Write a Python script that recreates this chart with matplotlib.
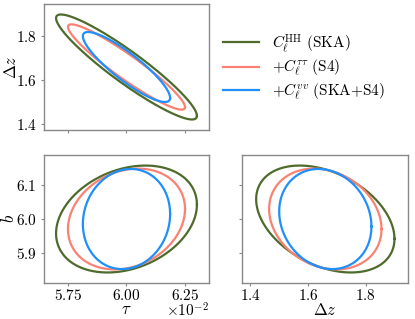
import numpy as np
import matplotlib
matplotlib.use("Agg")
import matplotlib.pyplot as plt

plt.rcParams['font.family'] = 'serif'
plt.rcParams['font.serif'] = ['cmr10']
plt.rcParams['mathtext.fontset'] = 'cm'
plt.rcParams['axes.formatter.use_mathtext'] = True

# fiducial values
tau0 = 6.0e-2
dz0 = 1.66
b0 = 6.0

labels = [r'$C_\ell^{\rm HH}\ \mathrm{(SKA)}$',
          r'$+C_\ell^{\tau\tau}\ \mathrm{(S4)}$',
          r'$+C_\ell^{vv}\ \mathrm{(SKA{+}S4)}$']
colors = ['#4e6b2b', '#f98273', '#1f8ffb']

# contour half-widths along each parameter
half_tau = [0.302e-2, 0.251e-2, 0.187e-2]
half_dz = [0.240, 0.195, 0.160]
half_b = [0.157, 0.148, 0.147]
# correlation coefficients
rho_tau_dz = [-0.93, -0.94, -0.88]
rho_tau_b = [0.27, 0.20, 0.10]
rho_dz_b = [-0.37, -0.20, -0.15]

tau_ticks = [5.75e-2, 6.00e-2, 6.25e-2]
dz_ticks = [1.4, 1.6, 1.8]
b_ticks = [5.9, 6.0, 6.1]
tau_lim = (5.645e-2, 6.355e-2)
dz_lim = (1.372, 1.948)
b_lim = (5.813, 6.188)

fs = 11


def ellipse(ax, cx, cy, sx, sy, rho, color):
    t = np.linspace(0, 2 * np.pi, 300)
    cov = np.array([[sx * sx, rho * sx * sy], [rho * sx * sy, sy * sy]])
    L = np.linalg.cholesky(cov)
    xy = L @ np.vstack([np.cos(t), np.sin(t)])
    return ax.plot(cx + xy[0], cy + xy[1], color=color, lw=1.6)[0]


def style(ax):
    for s in ax.spines.values():
        s.set_color('#888888')
        s.set_linewidth(1.0)
    ax.tick_params(colors='#888888', labelcolor='black', labelsize=fs,
                   length=2.5, width=0.8, pad=2.5)
    ax.tick_params(axis='x', pad=1.5)


fig = plt.figure(figsize=(4.15, 3.19), dpi=100)
ax1 = fig.add_axes([0.1053, 0.5925, 0.399, 0.395])
ax2 = fig.add_axes([0.1053, 0.1138, 0.399, 0.4003])
ax3 = fig.add_axes([0.5839, 0.1138, 0.400, 0.4003])

handles = []
for i in range(3):
    h = ellipse(ax1, tau0, dz0, half_tau[i], half_dz[i], rho_tau_dz[i], colors[i])
    handles.append(h)
    ellipse(ax2, tau0, b0, half_tau[i], half_b[i], rho_tau_b[i], colors[i])
    ellipse(ax3, dz0, b0, half_dz[i], half_b[i], rho_dz_b[i], colors[i])

for ax in (ax1, ax2, ax3):
    style(ax)

ax1.set_xlim(tau_lim)
ax1.set_ylim(dz_lim)
ax1.set_xticks(tau_ticks)
ax1.set_xticklabels([])
ax1.set_yticks(dz_ticks)
ax1.set_ylabel(r'$\Delta z$', fontsize=fs + 1, va='center')
ax1.yaxis.set_label_coords(-0.195, 0.5)

ax2.set_xlim(tau_lim)
ax2.set_ylim(b_lim)
ax2.set_xticks(tau_ticks)
ax2.set_yticks(b_ticks)
ax2.ticklabel_format(axis='x', style='sci', scilimits=(0, 0),
                     useOffset=False, useMathText=True)
ax2.xaxis.get_offset_text().set_visible(False)
ax2.text(1.0, -0.215, r'$\times10^{-2}$', transform=ax2.transAxes,
         ha='right', va='center', fontsize=fs)
ax2.set_xlabel(r'$\tau$', fontsize=fs + 1, labelpad=-1)
ax2.set_ylabel(r'$b$', fontsize=fs + 1, va='center')
ax2.yaxis.set_label_coords(-0.21, 0.5)

ax3.set_xlim(dz_lim)
ax3.set_ylim(b_lim)
ax3.set_xticks(dz_ticks)
ax3.set_yticks(b_ticks)
ax3.set_yticklabels([])
ax3.set_xlabel(r'$\Delta z$', fontsize=fs + 1, labelpad=-1)

fig.legend(handles, labels, loc='upper left', bbox_to_anchor=(0.537, 0.9),
           frameon=False, fontsize=fs, handlelength=2.35, handletextpad=0.85,
           labelspacing=0.22, borderpad=0, borderaxespad=0)

fig.savefig('out.png', dpi=100)
